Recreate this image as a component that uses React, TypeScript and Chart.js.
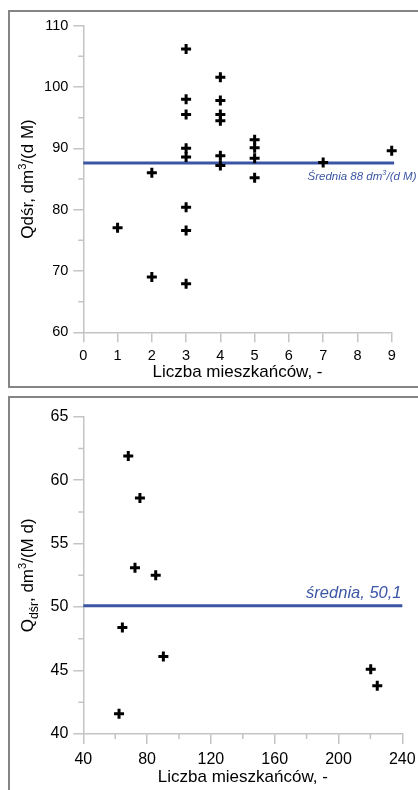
import React, { useEffect, useRef } from "react";
import { Chart, registerables } from "chart.js";

Chart.register(...registerables);

const FONT = '"Liberation Sans", Arial, Helvetica, sans-serif';
const BLUE = "#3b55a5";
const AXIS = "#c4c4c4";
const TEXT = "#000000";

// ---------- top chart data ----------
const topX = [1, 2, 2, 3, 3, 3, 3, 3, 3, 3, 3, 4, 4, 4, 4, 4, 4, 5, 5, 5, 5, 7, 9];
const topY = [77.05, 86, 69, 106.2, 98, 95.5, 90, 88.6, 80.4, 76.6, 67.9, 101.6, 97.8, 95.5, 94.5, 88.8, 87.2, 91.4, 90.1, 88.4, 85.2, 87.7, 89.6];
const topXTicks = [0, 1, 2, 3, 4, 5, 6, 7, 8, 9];
const topYTicks = [60, 70, 80, 90, 100, 110];
const topYMinor = [65, 75, 85, 95, 105];
const topMean = 87.6;
const topMeanSpan = [0, 9.07];
const topMeanLabel = [{ t: "Średnia 88 dm" }, { t: "3", k: "sup" }, { t: "/(d M)" }];
const topYTitle = [{ t: "Qdśr, dm" }, { t: "3", k: "sup" }, { t: "/(d M)" }];

// ---------- bottom chart data ----------
const botX = [68.2, 75.5, 72.4, 85.4, 64.5, 90.2, 220.2, 224.3, 62.4];
const botY = [61.9, 58.6, 53.1, 52.5, 48.4, 46.1, 45.1, 43.8, 41.6];
const botXTicks = [40, 80, 120, 160, 200, 240];
const botXMinor = [60, 100, 140, 180, 220];
const botYTicks = [40, 45, 50, 55, 60, 65];
const botYMinor = [42.5, 47.5, 52.5, 57.5, 62.5];
const botMean = 50.1;
const botMeanSpan = [40, 240];
const botMeanLabel = [{ t: "średnia, 50,1" }];
const botYTitle = [{ t: "Q" }, { t: "dśr", k: "sub" }, { t: ", dm" }, { t: "3", k: "sup" }, { t: "/(M d)" }];

const xTitleText = "Liczba mieszkańców, -";

type Seg = { t: string; k?: string };

function drawSegs(
  ctx: CanvasRenderingContext2D,
  segs: Seg[],
  size: number,
  italic: boolean,
  x: number,
  y: number,
  align: "center" | "right",
  color: string
) {
  const fontOf = (s: number) => `${italic ? "italic " : ""}${s}px ${FONT}`;
  const parts = segs.map((sg) => {
    const s = sg.k === "sup" ? size * 0.65 : sg.k === "sub" ? size * 0.72 : size;
    ctx.font = fontOf(s);
    return { ...sg, s, w: ctx.measureText(sg.t).width };
  });
  const total = parts.reduce((a, p) => a + p.w, 0);
  let cx = align === "center" ? x - total / 2 : x - total;
  ctx.fillStyle = color;
  ctx.textBaseline = "alphabetic";
  ctx.textAlign = "left";
  for (const p of parts) {
    ctx.font = fontOf(p.s);
    const dy = p.k === "sup" ? -size * 0.4 : p.k === "sub" ? size * 0.28 : 0;
    ctx.fillText(p.t, cx, y + dy);
    cx += p.w;
  }
}

type Cfg = {
  xs: number[];
  ys: number[];
  xTicks: number[];
  xMinor: number[];
  yTicks: number[];
  yMinor: number[];
  mean: number;
  meanSpan: number[];
  meanLabel: Seg[];
  meanSize: number;
  meanDy: number;
  meanRight: number;
  yTitle: Seg[];
  yTitleX: number;
  tickSize: number;
  tickPadX: number;
  padTop: number;
  padRight: number;
  yWidth: number;
  xHeight: number;
  xTitlePad: number;
};

function makeOverlay(c: Cfg) {
  return {
    id: "overlay",
    afterDraw(chart: any) {
      const ctx: CanvasRenderingContext2D = chart.ctx;
      const xs = chart.scales.x;
      const ys = chart.scales.y;
      const area = chart.chartArea;
      ctx.save();
      ctx.strokeStyle = AXIS;
      ctx.lineWidth = 1.5;
      ctx.beginPath();
      for (const v of c.xMinor) {
        const px = xs.getPixelForValue(v);
        ctx.moveTo(px, area.bottom);
        ctx.lineTo(px, area.bottom + 5);
      }
      for (const v of c.yMinor) {
        const py = ys.getPixelForValue(v);
        ctx.moveTo(area.left, py);
        ctx.lineTo(area.left - 5, py);
      }
      ctx.stroke();

      // y axis title
      ctx.save();
      ctx.translate(c.yTitleX, (area.top + area.bottom) / 2);
      ctx.rotate(-Math.PI / 2);
      drawSegs(ctx, c.yTitle, 17, false, 0, 0, "center", TEXT);
      ctx.restore();

      // mean label
      const ly = ys.getPixelForValue(c.mean);
      drawSegs(ctx, c.meanLabel, c.meanSize, true, c.meanRight, ly + c.meanDy, "right", BLUE);
      ctx.restore();
    },
  };
}

function buildConfig(c: Cfg): any {
  const axisCommon = {
    type: "linear",
    grid: { drawOnChartArea: false, drawTicks: true, tickLength: 10, color: AXIS, lineWidth: 1.5 },
    border: { display: true, color: AXIS, width: 1.5 },
  };
  return {
    type: "scatter",
    data: {
      datasets: [
        {
          data: c.xs.map((x, i) => ({ x, y: c.ys[i] })),
          pointStyle: "cross",
          pointRadius: 5,
          pointHoverRadius: 5,
          borderColor: "#000",
          backgroundColor: "#000",
          borderWidth: 3,
          clip: false,
          order: 0,
        },
        {
          data: c.meanSpan.map((x) => ({ x, y: c.mean })),
          showLine: true,
          pointRadius: 0,
          borderColor: BLUE,
          backgroundColor: BLUE,
          borderWidth: 3,
          clip: false,
          order: 1,
        },
      ],
    },
    options: {
      responsive: false,
      animation: false,
      events: [],
      layout: { padding: { left: 0, top: c.padTop, right: c.padRight, bottom: 0 } },
      plugins: { legend: { display: false }, tooltip: { enabled: false } },
      scales: {
        x: {
          ...axisCommon,
          min: c.xTicks[0],
          max: c.xTicks[c.xTicks.length - 1],
          afterBuildTicks: (s: any) => {
            s.ticks = c.xTicks.map((value) => ({ value }));
          },
          afterFit: (s: any) => {
            s.height = c.xHeight;
          },
          ticks: {
            font: { family: FONT, size: c.tickSize },
            color: TEXT,
            padding: c.tickPadX,
            maxRotation: 0,
            autoSkip: false,
          },
          title: {
            display: true,
            text: xTitleText,
            font: { family: FONT, size: 17 },
            color: TEXT,
            padding: { top: 0, bottom: c.xTitlePad },
          },
        },
        y: {
          ...axisCommon,
          min: c.yTicks[0],
          max: c.yTicks[c.yTicks.length - 1],
          afterBuildTicks: (s: any) => {
            s.ticks = c.yTicks.map((value) => ({ value }));
          },
          afterFit: (s: any) => {
            s.width = c.yWidth;
          },
          ticks: {
            font: { family: FONT, size: c.tickSize },
            color: TEXT,
            padding: 5,
            autoSkip: false,
          },
        },
      },
    },
    plugins: [makeOverlay(c)],
  };
}

const topCfg: Cfg = {
  xs: topX,
  ys: topY,
  xTicks: topXTicks,
  xMinor: [],
  yTicks: topYTicks,
  yMinor: topYMinor,
  mean: topMean,
  meanSpan: topMeanSpan,
  meanLabel: topMeanLabel,
  meanSize: 11.5,
  meanDy: 17,
  meanRight: 406.5,
  yTitle: topYTitle,
  yTitleX: 23,
  tickSize: 14.5,
  tickPadX: 5,
  padTop: 13,
  padRight: 38.3,
  yWidth: 73.3,
  xHeight: 53.7,
  xTitlePad: 3,
};

const botCfg: Cfg = {
  xs: botX,
  ys: botY,
  xTicks: botXTicks,
  xMinor: botXMinor,
  yTicks: botYTicks,
  yMinor: botYMinor,
  mean: botMean,
  meanSpan: botMeanSpan,
  meanLabel: botMeanLabel,
  meanSize: 16.5,
  meanDy: -7.5,
  meanRight: 391.5,
  yTitle: botYTitle,
  yTitleX: 23,
  tickSize: 16,
  tickPadX: 6,
  padTop: 18.7,
  padRight: 27.7,
  yWidth: 73.3,
  xHeight: 56,
  xTitlePad: 2,
};

function ChartCanvas({ cfg, width, height }: { cfg: Cfg; width: number; height: number }) {
  const ref = useRef<HTMLCanvasElement | null>(null);
  useEffect(() => {
    if (!ref.current) return;
    const chart = new Chart(ref.current, buildConfig(cfg));
    return () => chart.destroy();
  }, [cfg]);
  return <canvas ref={ref} width={width} height={height} style={{ display: "block", width, height }} />;
}

export default function App() {
  const boxStyle = (top: number, h: number): React.CSSProperties => ({
    position: "absolute",
    left: 8,
    top,
    width: 420,
    height: h,
    border: "2px solid #858585",
    background: "#fff",
  });
  return (
    <div
      style={{
        position: "absolute",
        left: 0,
        top: 0,
        width: 418,
        height: 790,
        overflow: "hidden",
        background: "#fff",
      }}
    >
      <div style={boxStyle(10, 374)}>
        <ChartCanvas cfg={topCfg} width={420} height={374} />
      </div>
      <div style={boxStyle(396, 400)}>
        <ChartCanvas cfg={botCfg} width={420} height={392} />
      </div>
    </div>
  );
}
